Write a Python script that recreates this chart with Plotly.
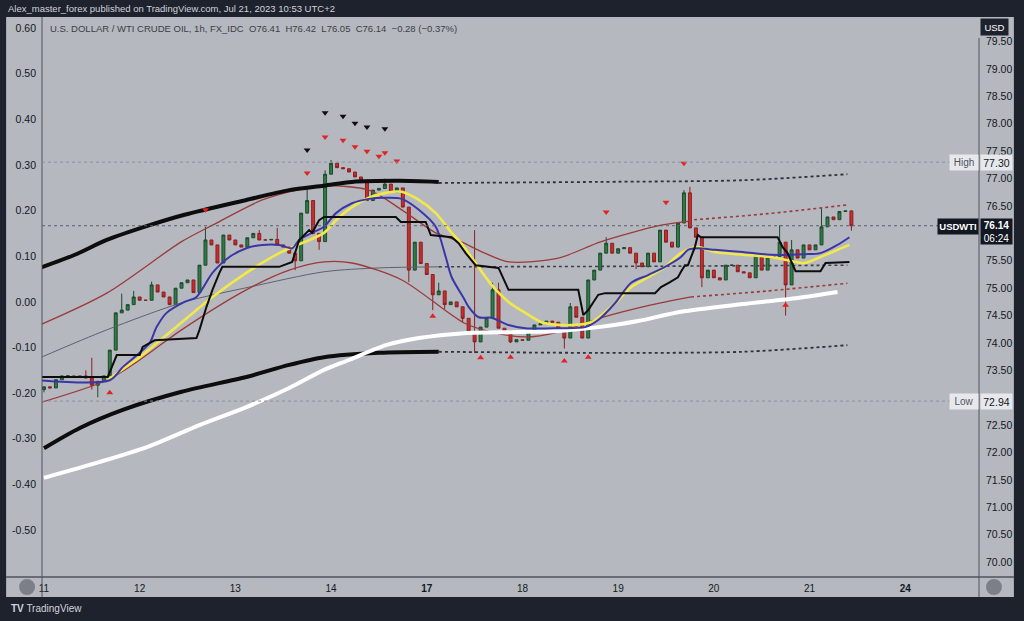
import plotly.graph_objects as go

# ---------------- data ----------------
first_open = 73.15
closes = [
    73.20, 73.18, 73.33, 73.40, 73.40, 73.37, 73.40, 73.36, 73.23, 73.30,
    73.40, 73.87, 74.55, 74.60, 74.70, 74.84, 74.78, 74.78, 75.06, 74.93,
    74.84, 74.70, 75.00, 75.10, 75.15, 74.92, 75.42, 75.88, 75.79, 75.46,
    75.97, 75.88, 75.79, 75.75, 75.92, 76.00, 75.88, 75.88, 75.89, 75.79,
    75.75, 75.64, 75.50, 76.37, 76.60, 76.00, 75.85, 77.08, 77.28, 77.20,
    77.18, 77.12, 77.03, 76.97, 76.60, 76.79, 76.82, 76.90, 76.75, 76.83,
    76.48, 75.33, 75.84, 75.45, 75.25, 74.88, 74.95, 74.70, 74.75, 74.66,
    74.45, 74.20, 74.02, 74.29, 74.46, 74.97, 74.27, 74.22, 74.02, 74.06,
    74.05, 74.20, 74.33, 74.35, 74.40, 74.38, 74.24, 74.09, 74.66, 74.47,
    74.09, 75.15, 75.33, 75.64, 75.82, 75.64, 75.72, 75.74, 75.64, 75.46,
    75.39, 75.64, 75.48, 76.06, 75.84, 75.75, 76.19, 76.74, 76.10, 75.93,
    75.19, 75.33, 75.19, 75.15, 75.42, 75.42, 75.30, 75.28, 75.19, 75.60,
    75.33, 75.57, 75.58, 75.84, 75.06, 75.70, 75.55, 75.79, 75.70, 75.79,
    76.12, 76.30, 76.25, 76.40, 76.41, 76.14,
]
wick_high_idx = [7, 8, 13, 15, 18, 27, 36, 39, 44, 47, 48, 57, 66, 72, 75, 76, 88, 94, 107, 108, 123, 125, 130, 135]
wick_high_val = [73.50, 73.73, 74.90, 74.95, 75.12, 76.12, 76.06, 76.10, 76.83, 77.15, 77.34, 77.00, 75.10, 76.06, 75.10, 75.10, 74.73, 75.93, 76.79, 76.85, 76.15, 75.88, 76.46, 76.42]
wick_low_idx = [0, 8, 9, 42, 46, 61, 65, 67, 70, 72, 78, 87, 99, 110, 124, 135]
wick_low_val = [73.10, 73.15, 73.01, 75.33, 75.70, 75.11, 74.60, 74.62, 74.38, 73.82, 74.00, 73.90, 75.35, 75.02, 74.50, 76.05]

day_tick_idx = [0, 16, 32, 48, 64, 80, 96, 112, 128, 144]
day_tick_text = ["11", "12", "13", "14", "<b>17</b>", "18", "19", "20", "21", "<b>24</b>"]
price_ticks = [70.0 + 0.5 * k for k in range(20)]
hidden_price_ticks = [73.0, 76.0]          # covered by the Low / last-price boxes
left_ticks = [0.6, 0.5, 0.4, 0.3, 0.2, 0.1, 0.0, -0.1, -0.2, -0.3, -0.4, -0.5]

# long moving averages / bands
ma_top_x = [-0.67, 5.17, 10.5, 17.67, 23.5, 33.83, 41, 46.83, 51.5, 59.33, 66]
ma_top_y = [75.37, 75.61, 75.88, 76.15, 76.34, 76.61, 76.79, 76.87, 76.94, 76.96, 76.94]
ma_top_dot_x = [66, 92.67, 116.83, 134.33]
ma_top_dot_y = [76.92, 76.94, 76.97, 77.08]

ma_bot_x = [0, 6, 13.17, 23, 33.83, 41, 46.83, 56, 66]
ma_bot_y = [72.08, 72.45, 72.78, 73.11, 73.38, 73.60, 73.74, 73.82, 73.84]
ma_bot_dot_x = [66, 92.67, 116.83, 134.33]
ma_bot_dot_y = [73.84, 73.82, 73.84, 73.96]

white_x = [0, 9.33, 17.67, 26, 33.83, 41, 46.83, 51, 57.17, 62.67, 70.17, 79.33, 86, 92.67, 99.33, 106.5, 116.83, 126, 132.67]
white_y = [71.54, 71.83, 72.12, 72.50, 72.83, 73.18, 73.51, 73.69, 73.96, 74.09, 74.18, 74.20, 74.22, 74.29, 74.40, 74.57, 74.71, 74.82, 74.93]

grey_x = [-0.67, 10.5, 23.5, 34.33, 46.83, 56, 66]
grey_y = [73.73, 74.24, 74.75, 75.02, 75.30, 75.37, 75.39]
grey_dot_x = [66, 100, 134.33]
grey_dot_y = [75.39, 75.40, 75.42]

band_up_x = [-0.67, 10.5, 23, 28.17, 36.5, 42.67, 46.83, 54.33, 59.83, 65.5, 69.67, 73.5, 77.67, 86, 93.17, 103.17, 107.67]
band_up_y = [74.33, 74.91, 75.85, 76.15, 76.61, 76.80, 76.87, 76.79, 76.43, 76.01, 75.85, 75.65, 75.48, 75.55, 75.85, 76.15, 76.22]
band_up_dot_x = [107.67, 121, 134.33]
band_up_dot_y = [76.24, 76.36, 76.52]

band_lo_x = [-0.67, 10.5, 16, 23, 33.83, 41, 46.83, 51.5, 59.83, 70.17, 74.83, 80.5, 86, 93.5, 101, 108.17]
band_lo_y = [72.91, 73.32, 73.69, 74.24, 74.97, 75.33, 75.48, 75.46, 75.15, 74.37, 74.20, 74.11, 74.20, 74.47, 74.68, 74.84]
band_lo_dot_x = [108.17, 121, 134.33]
band_lo_dot_y = [74.84, 74.95, 75.09]

blue_x = [-0.67, 11, 13.17, 16, 17.67, 18.83, 20.5, 23.5, 25.5, 28.17, 31, 33.83, 36.5, 39.33, 41.5, 42.67,
          44.83, 46.83, 48.83, 51.5, 54.33, 57.17, 59.83, 62.67, 65.5, 67.17, 68.17, 70.17, 71, 72.67, 74.83,
          77.67, 80.5, 86, 90.5, 92.67, 95.5, 98.17, 101, 103.83, 106.5, 107.67, 109.33, 112.17, 116.83,
          121.5, 127.17, 129.83, 132.67, 134.67]
blue_y = [73.32, 73.32, 73.56, 73.82, 74.00, 74.29, 74.55, 74.75, 74.84, 75.28, 75.57, 75.73, 75.79, 75.79, 75.73, 75.88,
          76.01, 76.12, 76.37, 76.55, 76.63, 76.65, 76.63, 76.43, 76.12, 75.57, 75.20, 74.82, 74.66, 74.47, 74.46,
          74.33, 74.27, 74.27, 74.29, 74.42, 74.73, 75.10, 75.24, 75.39, 75.57, 75.70, 75.73, 75.70, 75.66,
          75.61, 75.62, 75.64, 75.79, 75.93]

yellow_x = [10.67, 11.33, 16, 23.5, 28.17, 33.83, 39.33, 41.5, 46.83, 48.83, 51.5, 54.33, 57.17, 59.83, 62.67,
            65.5, 68.17, 69.83, 72.17, 74.83, 77.67, 80.5, 83.17, 86, 88.83, 91.5, 92.67, 95.5, 98.17, 101,
            103.83, 106.5, 109.33, 112.17, 116.83, 121.5, 124.33, 127.17, 129.83, 132.67, 134.67]
yellow_y = [73.32, 73.38, 73.74, 74.42, 74.84, 75.28, 75.64, 75.75, 76.01, 76.24, 76.48, 76.65, 76.74, 76.76, 76.61,
            76.37, 76.01, 75.81, 75.46, 75.06, 74.75, 74.55, 74.38, 74.33, 74.33, 74.38, 74.46, 74.73, 75.02, 75.20,
            75.39, 75.64, 75.75, 75.66, 75.61, 75.57, 75.51, 75.46, 75.57, 75.70, 75.79]

step_x = [-0.67, 10.67, 12.17, 16, 16.5, 18.5, 25.5, 26, 27.17, 28.17, 29.33, 29.83, 39.33, 41.5, 42.67, 44.33,
          44.83, 46, 46.83, 58.83, 59.67, 63.83, 64.67, 68.17, 69.33, 70.5, 72.17, 76, 77.67, 89.33, 90.17, 91,
          92.67, 93.83, 102.17, 103.17, 104.67, 106, 106.5, 107.17, 107.67, 108.83, 109.33, 109.83, 116.83,
          122.67, 123.5, 124.33, 125.67, 129.83, 130.67, 134.67]
step_y = [73.38, 73.38, 73.78, 73.78, 73.93, 74.05, 74.09, 74.24, 74.66, 74.97, 75.28, 75.39, 75.39, 75.48, 75.88, 76.06,
          76.01, 76.24, 76.30, 76.30, 76.21, 76.21, 75.97, 75.93, 75.82, 75.64, 75.42, 75.37, 74.97, 74.97, 74.51, 74.60,
          74.88, 74.91, 74.91, 75.02, 75.11, 75.20, 75.30, 75.42, 75.42, 75.75, 75.97, 75.93, 75.93,
          75.93, 75.75, 75.64, 75.31, 75.31, 75.46, 75.48]

# fractal markers
red_down_idx = [27, 44, 47, 50, 52, 54, 56, 57, 59, 94, 104, 107]
red_down_val = [76.43, 77.10, 77.76, 77.70, 77.58, 77.50, 77.41, 77.47, 77.32, 76.39, 76.57, 77.28]
black_down_idx = [44, 47, 50, 52, 54, 57]
black_down_val = [77.52, 78.20, 78.14, 78.01, 77.94, 77.91]
red_up_idx = [11, 65, 73, 78, 87, 91, 124]
red_up_val = [73.09, 74.49, 73.73, 73.74, 73.67, 73.74, 74.69]

last_price = 76.14
high_price = 77.30
low_price = 72.94

# ---------------- build OHLC ----------------
n = len(closes)
idx = list(range(n))
opens = [first_open] + closes[:-1]
highs = [max(o, c) for o, c in zip(opens, closes)]
lows = [min(o, c) for o, c in zip(opens, closes)]
for i, v in zip(wick_high_idx, wick_high_val):
    highs[i] = max(highs[i], v)
for i, v in zip(wick_low_idx, wick_low_val):
    lows[i] = min(lows[i], v)

# ---------------- geometry helpers ----------------
W, H = 1024, 621
ML, MR, MT, MB = 42, 42, 17, 44
PW, PH = W - ML - MR, H - MT - MB


def px(xp):
    return (xp - ML) / PW


def py(yp):
    return (H - MB - yp) / PH


PANEL = "#b5b8bf"
DARK = "#1e222d"
AXC = "#50535e"
TXT = "#131722"
FONT = "Liberation Sans"

fig = go.Figure()


def line(x, y, color, width, dash="solid", shape="spline"):
    fig.add_trace(go.Scatter(x=x, y=y, mode="lines", hoverinfo="skip", showlegend=False,
                             line=dict(color=color, width=width, dash=dash, shape=shape,
                                       smoothing=0.8 if shape == "spline" else None)))


line(grey_x, grey_y, "#5f626b", 1)
line(grey_dot_x, grey_dot_y, "#3d4048", 1.6, "dot")
line(band_up_x, band_up_y, "#9b3b3b", 1.3)
line(band_up_dot_x, band_up_dot_y, "#9b3b3b", 1.6, "dot")
line(band_lo_x, band_lo_y, "#9b3b3b", 1.3)
line(band_lo_dot_x, band_lo_dot_y, "#9b3b3b", 1.6, "dot")
line(ma_top_x, ma_top_y, "#0d0d0d", 4)
line(ma_top_dot_x, ma_top_dot_y, "#2f323a", 1.8, "dot")
line(ma_bot_x, ma_bot_y, "#0d0d0d", 4)
line(ma_bot_dot_x, ma_bot_dot_y, "#2f323a", 1.8, "dot")
line(white_x, white_y, "#ffffff", 4)
line(yellow_x, yellow_y, "#f3e84a", 2.6)
line(blue_x, blue_y, "#3b36a8", 2)
line(step_x, step_y, "#0d0d0d", 2, shape="linear")

fig.add_trace(go.Candlestick(
    x=idx, open=opens, high=highs, low=lows, close=closes, showlegend=False, hoverinfo="skip",
    whiskerwidth=0,
    increasing=dict(fillcolor="#2f7a45", line=dict(color="#1d4a2b", width=1)),
    decreasing=dict(fillcolor="#c62e2e", line=dict(color="#8c2020", width=1)),
))

fig.add_trace(go.Scatter(x=red_down_idx, y=red_down_val, mode="markers", hoverinfo="skip", showlegend=False,
                         marker=dict(symbol="triangle-down", size=6, color="#e02424")))
fig.add_trace(go.Scatter(x=black_down_idx, y=black_down_val, mode="markers", hoverinfo="skip", showlegend=False,
                         marker=dict(symbol="triangle-down", size=6, color="#0d0d0d")))
fig.add_trace(go.Scatter(x=red_up_idx, y=red_up_val, mode="markers", hoverinfo="skip", showlegend=False,
                         marker=dict(symbol="triangle-up", size=6, color="#e02424")))
# anchor trace for the left (overlay) axis
fig.add_trace(go.Scatter(x=[None], y=[None], yaxis="y2", showlegend=False, hoverinfo="skip"))

# y range for 17..577 px
p_top = 79 + (69 - MT) / 54.8
p_bot = 79 - (H - MB - 69) / 54.8
l_top = 0.60 + (28 - MT) / 456.4
l_bot = -0.50 - (H - MB - 530) / 456.4

price_text = ["" if v in hidden_price_ticks else f"{v:.2f}" for v in price_ticks]

fig.update_layout(
    width=W, height=H, autosize=False,
    margin=dict(l=ML, r=MR, t=MT, b=MB),
    paper_bgcolor=DARK, plot_bgcolor=PANEL,
    font=dict(family=FONT, size=10, color=TXT),
    showlegend=False,
    xaxis=dict(range=[-0.33, (982 - 44) / 6], tickvals=day_tick_idx, ticktext=day_tick_text,
               showgrid=False, zeroline=False, showline=False, ticks="", rangeslider=dict(visible=False),
               tickfont=dict(size=10, color=TXT), ticklabelstandoff=4, fixedrange=True),
    yaxis=dict(side="right", range=[p_bot, p_top], tickvals=price_ticks,
               ticktext=price_text, showgrid=False, zeroline=False,
               showline=False, ticks="", tickfont=dict(size=10.5, color=TXT), ticklabelstandoff=6),
    yaxis2=dict(side="left", overlaying="y", range=[l_bot, l_top], tickvals=left_ticks,
                ticktext=[f"{v:.2f}" for v in left_ticks], showgrid=False, zeroline=False,
                showline=False, ticks="", tickfont=dict(size=10.5, color=TXT), ticklabelstandoff=5),
)

shapes = [
    dict(type="rect", xref="paper", yref="paper", x0=px(6), x1=px(1017), y0=py(597), y1=py(17),
         fillcolor=PANEL, line=dict(width=0), layer="below"),
    dict(type="line", xref="paper", yref="paper", x0=0, x1=0, y0=py(597), y1=py(17), line=dict(color=AXC, width=1)),
    dict(type="line", xref="paper", yref="paper", x0=1, x1=1, y0=py(597), y1=py(38), line=dict(color=AXC, width=1)),
    dict(type="line", xref="paper", yref="paper", x0=px(6), x1=px(1017), y0=0, y1=0, line=dict(color=AXC, width=1.5)),
    dict(type="line", xref="paper", yref="y", x0=0, x1=1, y0=high_price, y1=high_price,
         line=dict(color="#8d9099", width=1, dash="dot")),
    dict(type="line", xref="paper", yref="y", x0=0, x1=1, y0=low_price, y1=low_price,
         line=dict(color="#8d9099", width=1, dash="dot")),
    dict(type="line", xref="paper", yref="y", x0=0, x1=1, y0=last_price, y1=last_price,
         line=dict(color="#5d6069", width=1, dash="dot")),
    dict(type="circle", xref="paper", yref="paper", x0=px(19), x1=px(35), y0=py(595), y1=py(579),
         fillcolor="#7c7f88", line=dict(width=0)),
    dict(type="circle", xref="paper", yref="paper", x0=px(989), x1=px(1005), y0=py(595), y1=py(579),
         fillcolor="#7c7f88", line=dict(width=0)),
]
fig.update_layout(shapes=shapes)

ann = [
    dict(text="Alex_master_forex published on TradingView.com, Jul 21, 2023 10:53 UTC+2", x=px(6), y=py(8),
         xanchor="left", yanchor="middle", font=dict(size=9.5, color="#d1d4dc")),
    dict(text="U.S. DOLLAR / WTI CRUDE OIL, 1h, FX_IDC  O76.41  H76.42  L76.05  C76.14  \u22120.28 (\u22120.37%)",
         x=px(48), y=py(28), xanchor="left", yanchor="middle", font=dict(size=9.5, color="#3b3e47")),
    dict(text="<b>TV</b> TradingView", x=px(9), y=py(608), xanchor="left", yanchor="middle",
         font=dict(size=10, color="#d1d4dc")),
    dict(text="USD", x=px(998), y=py(27), xanchor="center", yanchor="middle", width=27, height=16,
         bgcolor=DARK, font=dict(size=9.5, color="#ffffff"), borderpad=0),
    dict(text="High", x=px(982), y=py(163), xanchor="right", yanchor="middle", width=28, height=15,
         bgcolor="#e6e8ec", font=dict(size=10, color="#50535e"), borderpad=0, align="center"),
    dict(text="77.30", x=px(983), y=py(163), xanchor="left", yanchor="middle", width=31, height=15,
         bgcolor="#e6e8ec", font=dict(size=10.5, color=TXT), borderpad=0),
    dict(text="Low", x=px(982), y=py(401), xanchor="right", yanchor="middle", width=28, height=15,
         bgcolor="#e6e8ec", font=dict(size=10, color="#50535e"), borderpad=0, align="center"),
    dict(text="72.94", x=px(983), y=py(401), xanchor="left", yanchor="middle", width=31, height=15,
         bgcolor="#e6e8ec", font=dict(size=10.5, color=TXT), borderpad=0),
    dict(text="<b>USDWTI</b>", x=px(982), y=py(226), xanchor="right", yanchor="middle", width=40, height=15,
         bgcolor=TXT, font=dict(size=9.5, color="#ffffff"), borderpad=0),
    dict(text="<b>76.14</b><br>06:24", x=px(983), y=py(218), xanchor="left", yanchor="top", width=31, height=25,
         bgcolor=TXT, font=dict(size=10, color="#ffffff"), borderpad=0),
]
for a in ann:
    a.setdefault("xref", "paper")
    a.setdefault("yref", "paper")
    a.setdefault("showarrow", False)
fig.update_layout(annotations=ann)

fig.write_html("out.html", config={"displayModeBar": False},
               post_script="document.body.style.margin='0';")
